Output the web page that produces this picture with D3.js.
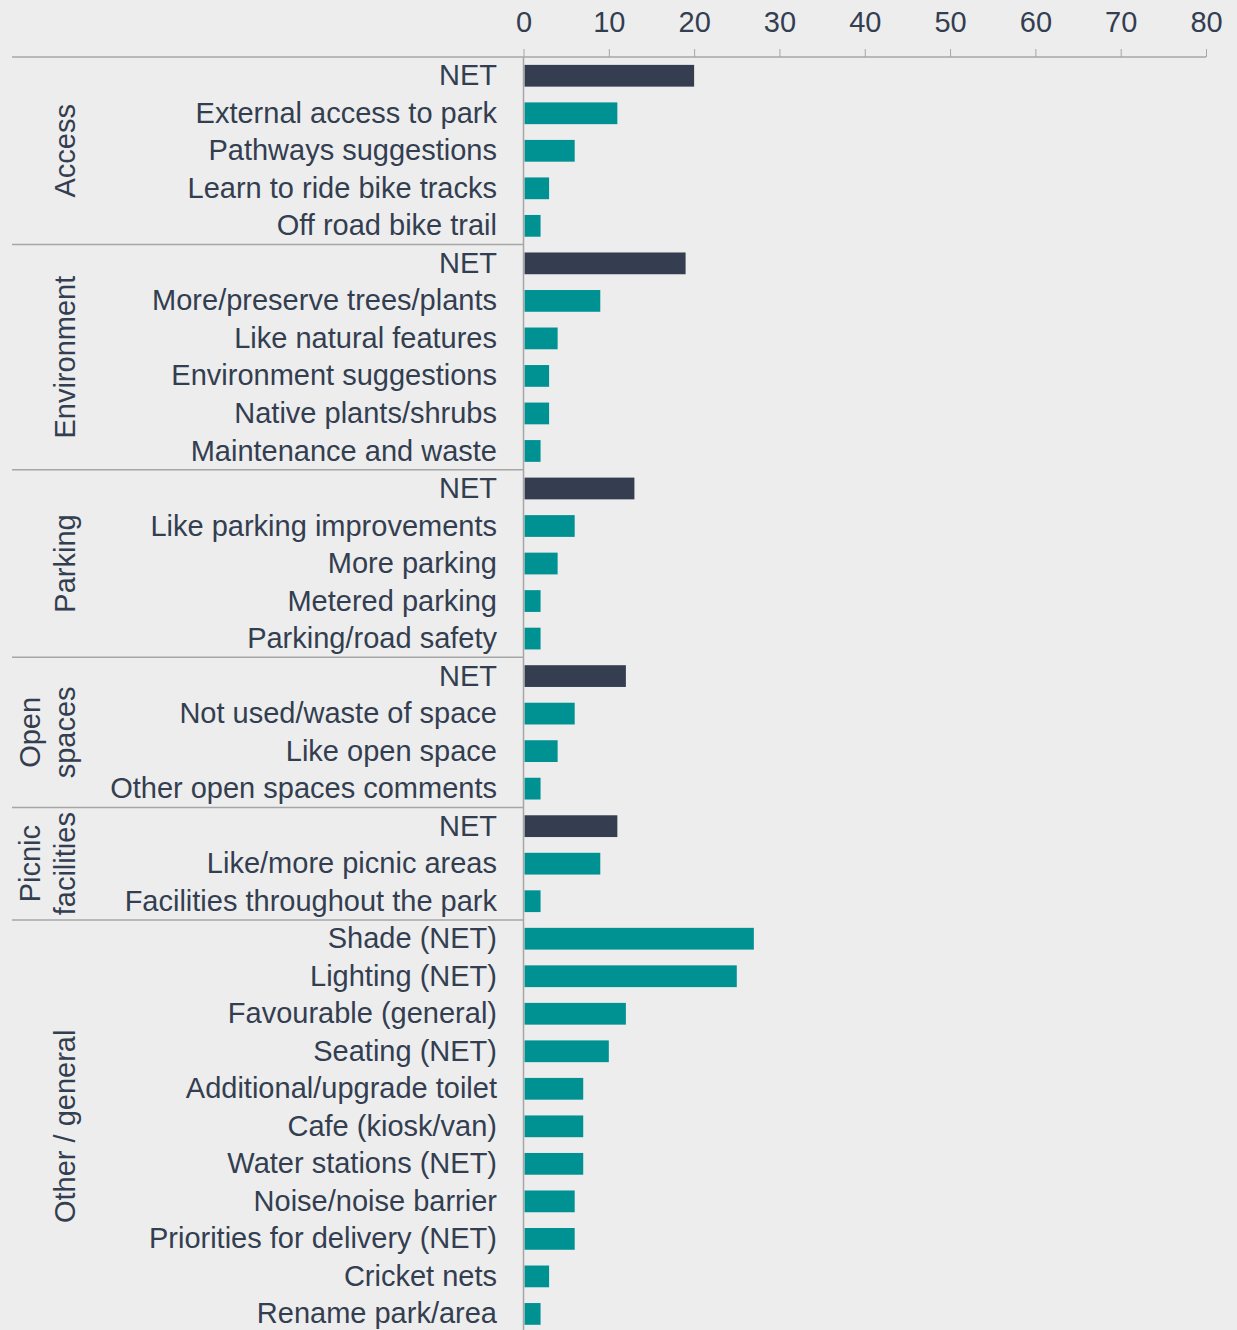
<!DOCTYPE html>
<html>
<head>
<meta charset="utf-8">
<script src="https://cdn.jsdelivr.net/npm/d3@7"></script>
<style>
  html, body { margin: 0; padding: 0; background: #ededed; }
  svg { display: block; }
</style>
</head>
<body>
<div id="chart"></div>
<script>
// group names, split into the lines they are drawn on
const groupLines = [
  ['Access'],
  ['Environment'],
  ['Parking'],
  ['Open', 'spaces'],
  ['Picnic', 'facilities'],
  ['Other / general']
]
const groupSizes = [5, 6, 5, 4, 3, 11]

const labels = [
  'NET', 'External access to park', 'Pathways suggestions', 'Learn to ride bike tracks', 'Off road bike trail',
  'NET', 'More/preserve trees/plants', 'Like natural features', 'Environment suggestions', 'Native plants/shrubs', 'Maintenance and waste',
  'NET', 'Like parking improvements', 'More parking', 'Metered parking', 'Parking/road safety',
  'NET', 'Not used/waste of space', 'Like open space', 'Other open spaces comments',
  'NET', 'Like/more picnic areas', 'Facilities throughout the park',
  'Shade (NET)', 'Lighting (NET)', 'Favourable (general)', 'Seating (NET)', 'Additional/upgrade toilet',
  'Cafe (kiosk/van)', 'Water stations (NET)', 'Noise/noise barrier', 'Priorities for delivery (NET)',
  'Cricket nets', 'Rename park/area'
]

const values = [
  20, 11, 6, 3, 2,
  19, 9, 4, 3, 3, 2,
  13, 6, 4, 2, 2,
  12, 6, 4, 2,
  11, 9, 2,
  27, 25, 12, 10, 7, 7, 7, 6, 6, 3, 2
]

const xTicks = [0, 10, 20, 30, 40, 50, 60, 70, 80]

const width = 1237
const height = 1330
const font = 'Arial, "Liberation Sans", sans-serif'
const textColor = '#333e50'
const lineColor = '#a6a6a6'

const svg = d3.select('#chart').append('svg')
  .attr('width', width)
  .attr('height', height)

svg.append('rect')
  .attr('width', width)
  .attr('height', height)
  .attr('fill', '#ededed')

let x = d3.scaleLinear()
  .domain([0, 80])
  .range([523.5, 1206])

let y = d3.scaleBand()
  .domain(d3.range(labels.length))
  .range([57, 57 + labels.length * 37.52])
  .paddingInner(0.42)
  .paddingOuter(0.21)

// top axis
svg.append('g')
  .attr('transform', `translate(0, ${y.range()[0]})`)
  .call(d3.axisTop(x).tickValues(xTicks).tickSize(8).tickPadding(17).tickSizeOuter(0))
  .call(g => g.select('.domain').remove())
  .call(g => g.selectAll('.tick line').attr('stroke', lineColor))
  .call(g => g.selectAll('.tick text')
    .attr('fill', textColor)
    .attr('font-family', font)
    .attr('font-size', '29px'))

svg.append('line')
  .attr('x1', 12).attr('x2', x(80))
  .attr('y1', 57).attr('y2', 57)
  .attr('stroke', lineColor)
  .attr('stroke-width', 1.5)

// group separators and group names
let start = 0
groupSizes.forEach((size, gi) => {
  let top = y.range()[0] + start * y.step()
  let bottom = top + size * y.step()
  if (gi > 0) {
    svg.append('line')
      .attr('x1', 12).attr('x2', x(0))
      .attr('y1', top).attr('y2', top)
      .attr('stroke', lineColor)
      .attr('stroke-width', 1.5)
  }
  let lines = groupLines[gi]
  let t = svg.append('text')
    .attr('transform', `translate(${75 - 35 * (lines.length - 1)}, ${(top + bottom) / 2}) rotate(-90)`)
    .attr('text-anchor', 'middle')
    .attr('font-family', font)
    .attr('font-size', '29px')
    .attr('fill', textColor)
  lines.forEach((line, li) => {
    t.append('tspan')
      .attr('x', 0)
      .attr('dy', li === 0 ? 0 : 35)
      .text(line)
  })
  start += size
})

// bars
svg.append('g').selectAll('rect')
  .data(values)
  .join('rect')
  .attr('x', x(0) + 1)
  .attr('y', (d, i) => y(i))
  .attr('width', d => x(d) - x(0) - 1)
  .attr('height', y.bandwidth())
  .attr('fill', (d, i) => labels[i] === 'NET' ? '#343e50' : '#009193')

// row labels
svg.append('g').selectAll('text')
  .data(labels)
  .join('text')
  .attr('x', 497)
  .attr('y', (d, i) => y(i) + y.bandwidth() / 2)
  .attr('dy', '0.33em')
  .attr('text-anchor', 'end')
  .attr('font-family', font)
  .attr('font-size', '29px')
  .attr('fill', textColor)
  .text(d => d)

// vertical axis line
svg.append('line')
  .attr('x1', x(0)).attr('x2', x(0))
  .attr('y1', 57).attr('y2', height)
  .attr('stroke', lineColor)
  .attr('stroke-width', 1.5)
</script>
</body>
</html>
